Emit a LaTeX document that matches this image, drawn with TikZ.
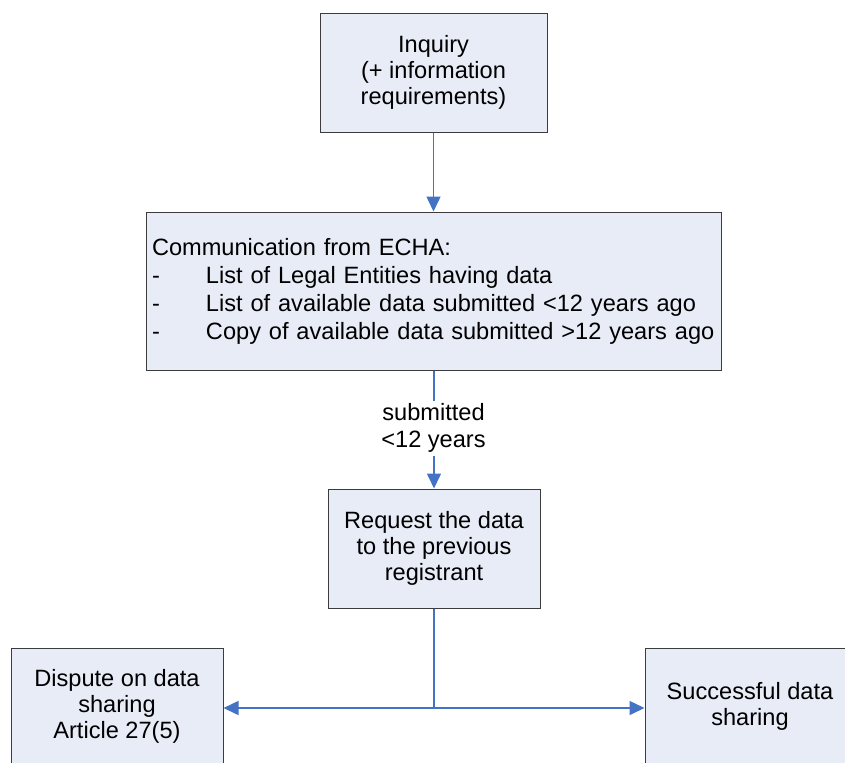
\documentclass[tikz,border=0pt]{standalone}
\usepackage{fontspec}
\setmainfont{Liberation Sans}
\usetikzlibrary{arrows.meta,positioning}
\definecolor{boxfill}{RGB}{231,236,247}
\definecolor{boxline}{RGB}{60,60,60}
\definecolor{arrblue}{RGB}{68,114,196}
\tikzset{
  proc/.style={draw=boxline, fill=boxfill, line width=0.5pt,
               align=center, font=\fontsize{11.8}{13}\selectfont, inner sep=2pt},
  lbl/.style={fill=white, align=center, font=\fontsize{11.8}{13.5}\selectfont, inner sep=1.5pt},
  ar/.style={-{Triangle[length=7.5pt,width=7pt]}, draw=arrblue, line width=0.75pt},
}
\newcommand{\dashitem}[1]{\makebox[27pt][l]{-}#1}

\begin{document}
\begin{tikzpicture}[x=0.5pt, y=-0.5pt]
\useasboundingbox (0,0) rectangle (845,762);

\node[proc, minimum width=113.5pt, minimum height=59.5pt] (inq) at (433.5,72.5)
  {Inquiry\\(+ information\\requirements)};
\node[proc, align=left, text width=281.5pt, inner xsep=3pt, minimum height=79pt,
      font=\fontsize{11.8}{14}\selectfont] (comm) at (433.5,291)
  {Communication from ECHA:\\
   \dashitem{List of Legal Entities having data}\\
   \dashitem{List of available data submitted <12 years ago}\\
   \dashitem{Copy of available data submitted >12 years ago}};
\node[proc, minimum width=106pt, minimum height=59.5pt] (req) at (434,548.5)
  {Request the data\\to the previous\\registrant};
\node[proc, minimum width=106pt, minimum height=58pt] (disp) at (117,706)
  {Dispute on data\\sharing\\Article 27(5)};
\node[proc, minimum width=105pt, minimum height=58pt] (succ) at (750,706)
  {Successful data\\sharing};

\coordinate (split) at (434,708);

\draw[ar] (inq) -- (comm);
\draw[ar] (comm.south -| req) -- (req);
\node[lbl] (sub) at (433.5,428) {submitted\\<12 years};
\draw[draw=arrblue, line width=0.75pt] (req) -- (split);
\draw[ar] (split) -- (split -| disp.east);
\draw[ar] (split) -- (split -| succ.west);
\end{tikzpicture}
\end{document}
